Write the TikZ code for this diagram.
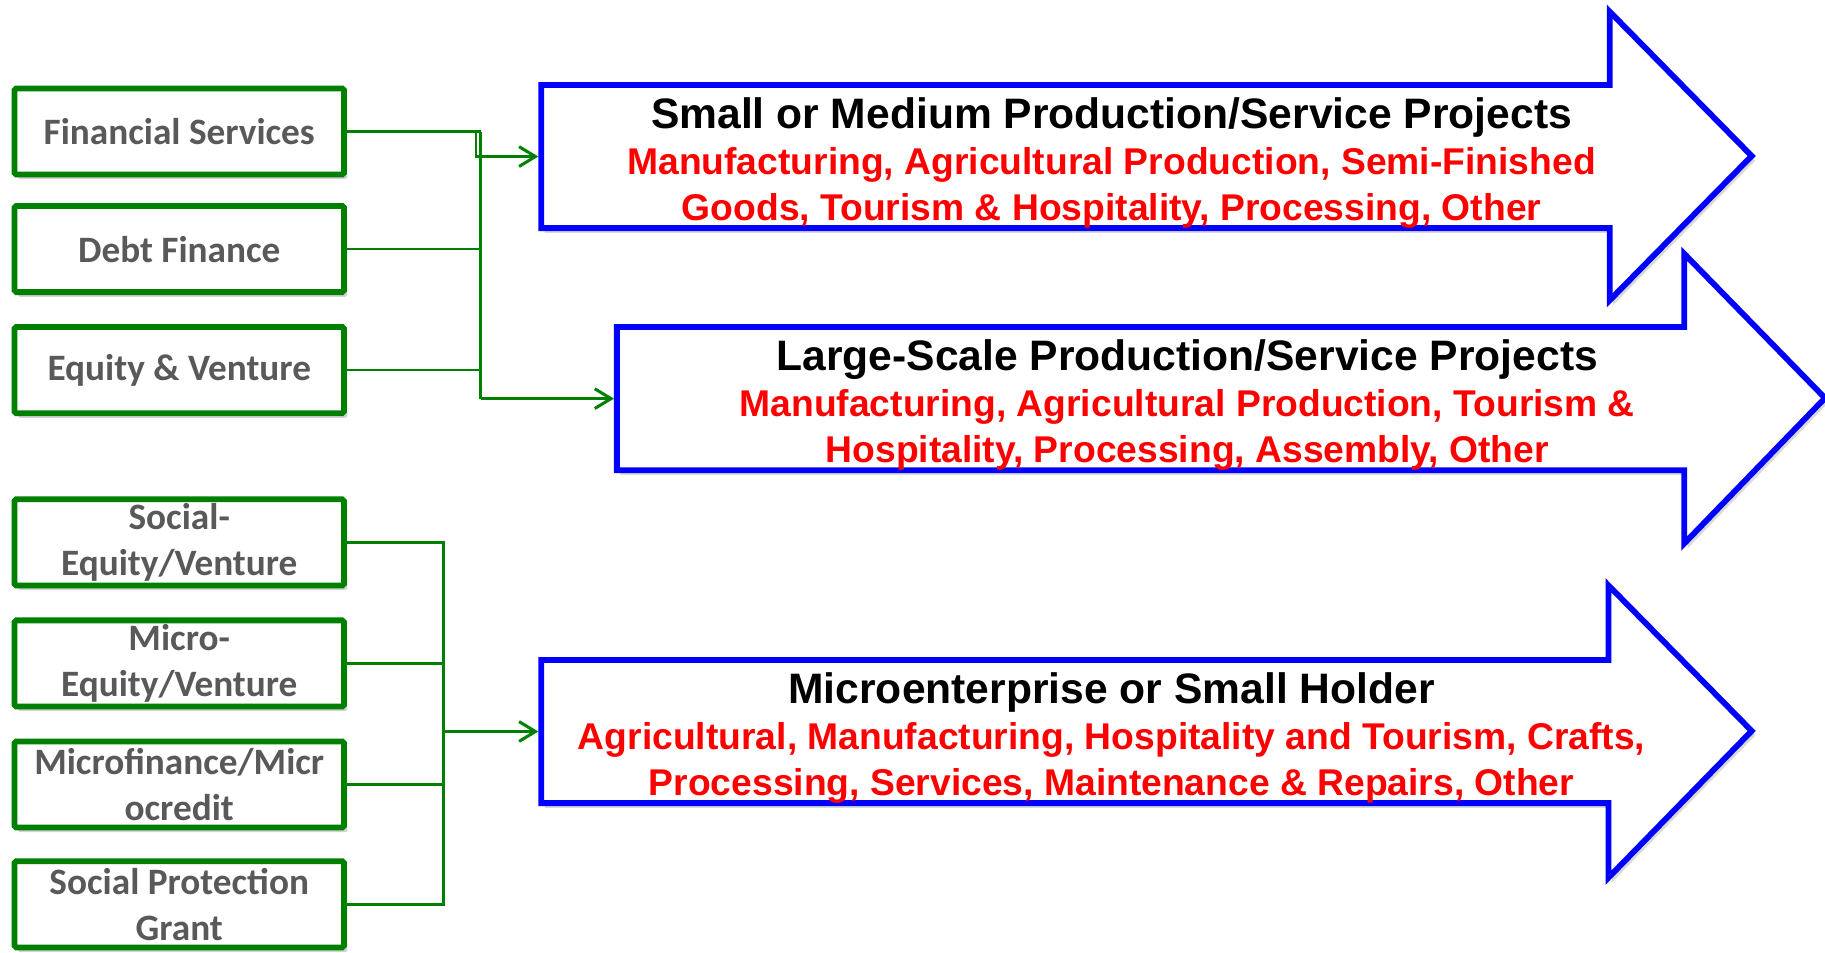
\documentclass[tikz,border=0pt]{standalone}
\usepackage{fontspec}
\setmainfont{Liberation Sans}
\newfontfamily\boxfont{Carlito}
\usetikzlibrary{arrows.meta,shadows}
\definecolor{boxgreen}{RGB}{0,128,0}
\definecolor{linegreen}{RGB}{0,128,0}
\definecolor{txtgray}{RGB}{89,89,89}
\definecolor{arrowblue}{RGB}{0,0,255}
\definecolor{redtxt}{RGB}{255,0,0}
\newcommand{\redline}[1]{{\color{redtxt}\fontsize{32}{39}\selectfont #1}}
\begin{document}
\begin{tikzpicture}[x=1pt,y=-1pt,
  srcbox/.style={draw=boxgreen, line width=5pt, fill=white, rounded corners=1.5pt,
    minimum width=283pt, minimum height=74pt, inner sep=1pt, align=center,
    font=\boxfont\bfseries\fontsize{32}{39}\selectfont, text=txtgray,
    drop shadow={shadow xshift=3pt, shadow yshift=-4pt, opacity=0.35}},
  bigarrow/.style={draw=arrowblue, line width=5pt, fill=white, line join=miter,
    drop shadow={shadow xshift=3pt, shadow yshift=-4pt, opacity=0.3}},
  body/.style={minimum height=123pt, inner sep=0pt, outer sep=2.5pt},
  conn/.style={draw=linegreen, line width=2.1pt},
  tip/.style={-{Straight Barb[length=14pt,width=17pt,line width=2.6pt]}},
  arrowtext/.style={align=center, font=\bfseries\fontsize{36.6}{39.5}\selectfont}
]
\useasboundingbox (0,0) rectangle (1568,818);

% source boxes
\node[srcbox] (fs)  at (154,113) {Financial Services};
\node[srcbox] (df)  at (154,214) {Debt Finance};
\node[srcbox] (ev)  at (154,318) {Equity \& Venture};
\node[srcbox] (sev) at (154,466) {Social-\\Equity/Venture};
\node[srcbox] (mev) at (154,570) {Micro-\\Equity/Venture};
\node[srcbox] (mf)  at (154,674) {Microfinance/Micr\\ocredit};
\node[srcbox] (spg) at (154,777) {Social Protection\\Grant};

% arrow bodies (anchors for connectors)
\node[body, minimum width=918pt] (a1) at (924,134.5) {};
\node[body, minimum width=917pt] (a2) at (988.5,342.5) {};
\node[body, minimum width=917pt] (a3) at (923.5,628.5) {};

\coordinate (trunkA) at (413,0);
\coordinate (jog) at (409,0);
\coordinate (trunkB) at (381,0);

% connectors, upper group
\draw[conn] (fs.east) -- (fs.east -| trunkA);
\draw[conn, tip] (fs.east -| jog) |- (a1.west);
\draw[conn] (fs.east -| trunkA) -- (a2.west -| trunkA);
\draw[conn] (df.east) -- (df.east -| trunkA);
\draw[conn] (ev.east) -- (ev.east -| trunkA);
\draw[conn, tip] (a2.west -| trunkA) -- (a2.west);

% connectors, lower group
\draw[conn] (sev.east) -- (sev.east -| trunkB) -- (spg.east -| trunkB) -- (spg.east);
\draw[conn] (mev.east) -- (mev.east -| trunkB);
\draw[conn] (mf.east) -- (mf.east -| trunkB);
\draw[conn, tip] (a3.west -| trunkB) -- (a3.west);

% big arrows
\draw[bigarrow] (465,73) -- (1383,73) -- (1383,10) -- (1505,134) -- (1383,258) -- (1383,196) -- (465,196) -- cycle;
\draw[bigarrow] (530,281) -- (1447,281) -- (1447,218) -- (1568,342) -- (1447,467) -- (1447,404) -- (530,404) -- cycle;
\draw[bigarrow] (465,567) -- (1382,567) -- (1382,503) -- (1505,628) -- (1382,754) -- (1382,690) -- (465,690) -- cycle;

% arrow texts
\node[arrowtext] (t1) at (955,140) {Small or Medium Production/Service Projects\\
  \redline{Manufacturing, Agricultural Production, Semi-Finished}\\
  \redline{Goods, Tourism \& Hospitality, Processing, Other}};
\node[arrowtext] (t2) at (1020,348) {Large-Scale Production/Service Projects\\
  \redline{Manufacturing, Agricultural Production, Tourism \&}\\
  \redline{Hospitality, Processing, Assembly, Other}};
\node[arrowtext] (t3) at (955,634) {Microenterprise or Small Holder\\
  \redline{Agricultural, Manufacturing, Hospitality and Tourism, Crafts,}\\
  \redline{Processing, Services, Maintenance \& Repairs, Other}};
\end{tikzpicture}
\end{document}
